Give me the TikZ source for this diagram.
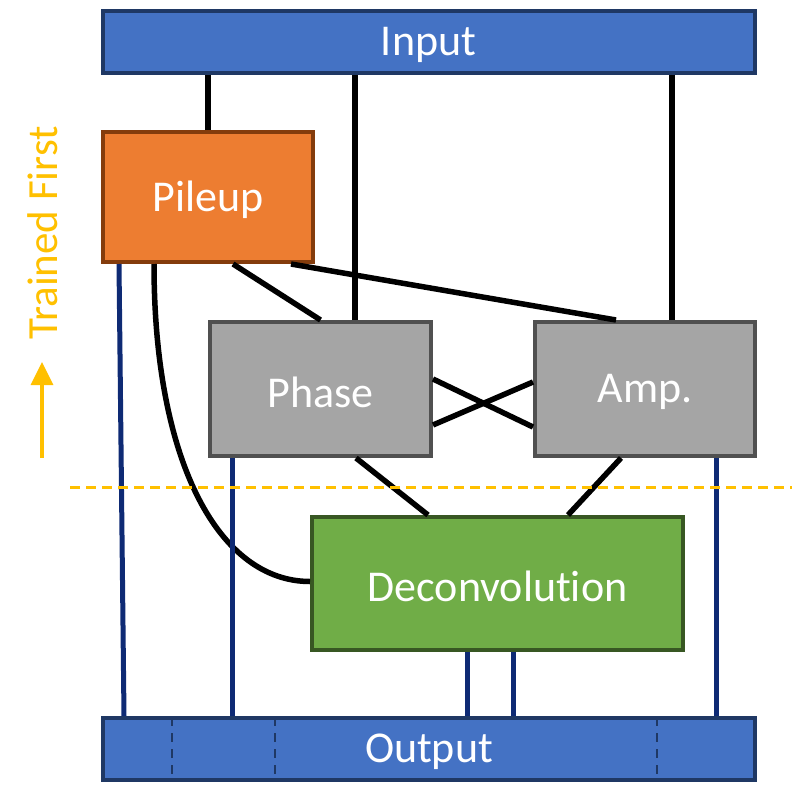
\documentclass[tikz,border=0pt]{standalone}
\usepackage{fontspec}
\setmainfont{Carlito}[Ligatures=NoCommon]
\usetikzlibrary{arrows.meta}
\definecolor{cblue}{HTML}{4472C4}
\definecolor{cblueb}{HTML}{1F3864}
\definecolor{cnavy}{HTML}{0E2A74}
\definecolor{corange}{HTML}{ED7D31}
\definecolor{corangeb}{HTML}{843C0C}
\definecolor{cgray}{HTML}{A5A5A5}
\definecolor{cgrayb}{HTML}{505050}
\definecolor{cgreen}{HTML}{70AD47}
\definecolor{cgreenb}{HTML}{385723}
\definecolor{cyellow}{HTML}{FFC000}
\newcommand{\lowtext}[1]{\raisebox{-3pt}[\height][\depth]{#1}}
\tikzset{
  box/.style={draw, line width=4pt, rectangle, inner sep=0pt, text=white,
    font=\fontsize{44}{52}\selectfont},
  bar/.style={box, fill=cblue, draw=cblueb},
  link/.style={line width=5.5pt, black},
  outlink/.style={line width=5pt, cnavy},
}
\begin{document}
\begin{tikzpicture}[x=1pt,y=-1pt]
\useasboundingbox (0,0) rectangle (792,808);
\node[bar, minimum width=652pt, minimum height=62pt] (input) at (428.5,42) {\lowtext{Input}};
\node[bar, minimum width=652pt, minimum height=62pt] (output) at (429,749) {\lowtext{Output}};
\node[box, fill=corange, draw=corangeb, minimum width=210pt, minimum height=130pt] (pile) at (208,197) {\lowtext{Pileup}};
\node[box, fill=cgray, draw=cgrayb, minimum width=221pt, minimum height=134pt] (phase) at (320.5,389) {\lowtext{Phase}};
\node[box, fill=cgray, draw=cgrayb, minimum width=220pt, minimum height=134pt] (amp) at (645,389) {\lowtext{Amp.}};
\node[box, fill=cgreen, draw=cgreenb, minimum width=371pt, minimum height=133pt] (dec) at (497.5,583.5) {\lowtext{Deconvolution}};
% output separators
\foreach \s/\n in {71/a,174/b,556/c}{
  \coordinate (o\n t) at ([xshift=\s pt]output.north west);
  \coordinate (o\n b) at ([xshift=\s pt]output.south west);
  \draw[cblueb, line width=2pt, dash pattern=on 9pt off 7pt, shorten <=1pt, shorten >=1pt] (o\n t) -- (o\n b);
}
% input links
\draw[link] (pile.north) -- (pile.north |- input.south);
\coordinate (ph1) at ([xshift=147pt]phase.north west);
\draw[link] (ph1) -- (ph1 |- input.south);
\coordinate (am1) at ([xshift=139pt]amp.north west);
\draw[link] (am1) -- (am1 |- input.south);
% pileup links
\draw[link] ([xshift=132pt]pile.south west) -- (phase.north);
\draw[link] ([xshift=190pt]pile.south west) -- ([xshift=83pt]amp.north west);
\draw[link] ([xshift=53pt]pile.south west) .. controls +(0,200) and +(-90,0) .. ([yshift=2pt]dec.west);
% cross
\draw[link] ([yshift=10pt]phase.east) -- ([yshift=-38pt]amp.west);
\draw[link] ([yshift=-36pt]phase.east) -- ([yshift=7pt]amp.west);
% to deconvolution
\draw[link] ([xshift=148pt]phase.south west) -- ([xshift=118pt]dec.north west);
\draw[link] ([xshift=88pt]amp.south west) -- ([xshift=258pt]dec.north west);
% outputs
\draw[outlink] ([xshift=18pt]pile.south west) -- ([xshift=23pt]output.north west);
\coordinate (p2) at ([xshift=24pt]phase.south west);
\draw[outlink] (p2) -- (p2 |- output.north);
\coordinate (d1) at ([xshift=157pt]dec.south west);
\draw[outlink] (d1) -- (d1 |- output.north);
\coordinate (d2) at ([xshift=203pt]dec.south west);
\draw[outlink] (d2) -- (d2 |- output.north);
\coordinate (a2) at ([xshift=183pt]amp.south west);
\draw[outlink] (a2) -- (a2 |- output.north);
% trained first
\coordinate (dl) at (70,487);
\coordinate (dr) at (792,487);
\draw[cyellow, line width=3pt, dash pattern=on 10pt off 6pt] (dl) -- (dr);
\node[rotate=90, text=cyellow, font=\fontsize{43}{50}\selectfont, inner sep=0pt] (tf) at (43,233) {Trained First};
\coordinate (ab) at (42,458);
\coordinate (at) at (42,362);
\draw[cyellow, line width=3.5pt, -{Triangle[width=22pt,length=23pt]}] (ab) -- (at);
\end{tikzpicture}
\end{document}
